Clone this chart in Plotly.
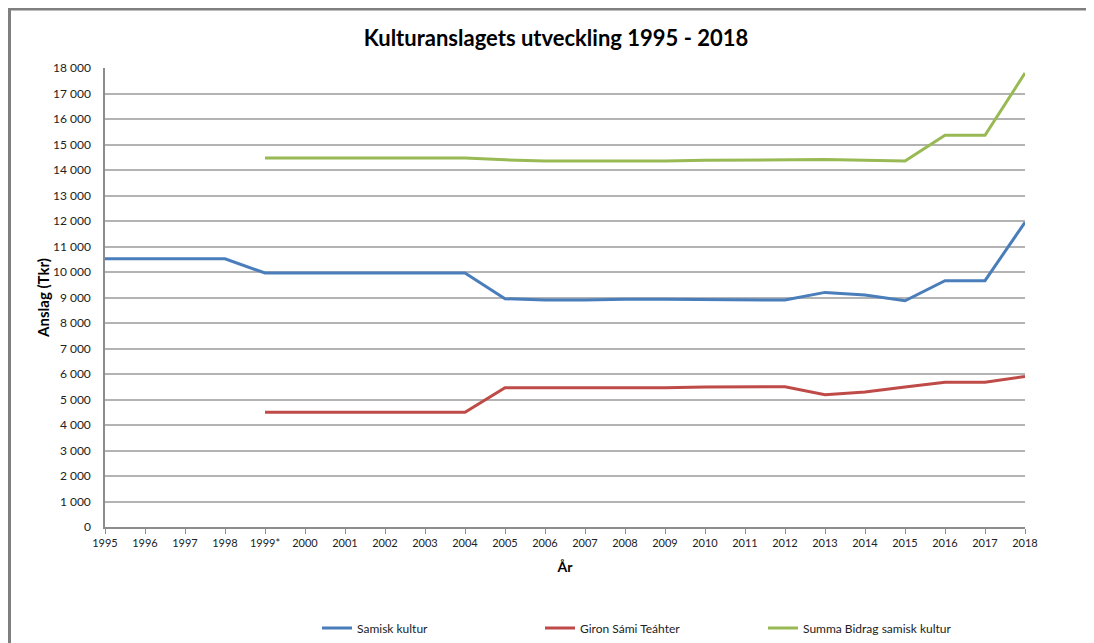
import plotly.graph_objects as go

years = ["1995", "1996", "1997", "1998", "1999*", "2000", "2001", "2002", "2003", "2004",
         "2005", "2006", "2007", "2008", "2009", "2010", "2011", "2012", "2013", "2014",
         "2015", "2016", "2017", "2018"]

samisk_kultur = [10520, 10520, 10520, 10520, 9960, 9960, 9960, 9960, 9960, 9960,
                 8950, 8900, 8900, 8930, 8930, 8920, 8900, 8900, 9200, 9100,
                 8870, 9660, 9660, 11950]

giron = [None, None, None, None, 4500, 4500, 4500, 4500, 4500, 4500,
         5460, 5460, 5460, 5460, 5460, 5490, 5500, 5500, 5190, 5290,
         5490, 5680, 5680, 5900]

summa = [None, None, None, None, 14470, 14470, 14470, 14470, 14470, 14470,
         14400, 14350, 14350, 14350, 14350, 14380, 14390, 14390, 14410, 14380,
         14350, 15360, 15360, 17800]

series_names = ["Samisk kultur", "Giron Sámi Teáhter", "Summa Bidrag samisk kultur"]
series_colors = ["#4a7ebb", "#be4b48", "#98b954"]

FONT = "Lato, 'Open Sans', sans-serif"

fig = go.Figure()
for name, vals, col in zip(series_names, [samisk_kultur, giron, summa], series_colors):
    fig.add_trace(go.Scatter(
        x=years, y=vals, name=name, mode="lines",
        line=dict(color=col, width=3),
        connectgaps=False,
    ))

# the page body has an 8px margin, so the figure starts at (8, 8) in the window
OFF = 8
W, H = 1094 - OFF, 643 - OFF
L = 105 - OFF
T = 68 - OFF
R = W - (1025 - OFF)
B = H - (527 - OFF)
pw, ph = W - L - R, H - T - B

def px_x(p):
    return (p - OFF - L) / pw

def px_y(p):
    return (H - B - (p - OFF)) / ph

def cx(p):
    return (p - OFF) / W

def cy(p):
    return 1 - (p - OFF) / H

fig.update_layout(
    width=W, height=H,
    margin=dict(l=L, r=R, t=T, b=B, autoexpand=False),
    paper_bgcolor="white", plot_bgcolor="white",
    separators=". ",
    font=dict(family=FONT, size=11, color="#222222"),
    title=dict(text="<b>Kulturanslagets utveckling 1995 - 2018</b>",
               x=cx(556), xanchor="center", xref="container",
               y=cy(38), yanchor="middle", yref="container",
               font=dict(size=22, color="#000000", family=FONT)),
    showlegend=True,
    legend=dict(orientation="h", xref="container", yref="container",
                x=cx(317), xanchor="left",
                y=cy(628), yanchor="middle",
                font=dict(size=12, color="#222222", family=FONT),
                itemwidth=30, entrywidth=178, tracegroupgap=0),
    xaxis=dict(
        type="category", range=[0, len(years) - 1],
        showgrid=False, showline=True, linecolor="#8c8c8c", linewidth=1.5,
        ticks="outside", ticklen=5, tickcolor="#8c8c8c",
        tickfont=dict(size=11, family=FONT, color="#222222"),
        title=dict(text="<b>År</b>", font=dict(size=14, family=FONT, color="#000000"),
                   standoff=14),
    ),
    yaxis=dict(
        range=[0, 18000], dtick=1000, tickformat=",d",
        showgrid=True, gridcolor="#b3b3b3", gridwidth=1.5,
        showline=True, linecolor="#8c8c8c", linewidth=1.5,
        zeroline=False,
        ticks="", ticklabelstandoff=10,
        tickfont=dict(size=12, family=FONT, color="#222222"),
        title=dict(text="<b>Anslag (Tkr)</b>", font=dict(size=15, family=FONT, color="#000000"),
                   standoff=0),
    ),
    shapes=[
        dict(type="line", xref="paper", yref="paper",
             x0=px_x(8), x1=px_x(1100), y0=px_y(9), y1=px_y(9),
             line=dict(color="#7f7f7f", width=3)),
        dict(type="line", xref="paper", yref="paper",
             x0=px_x(9.5), x1=px_x(9.5), y0=px_y(8), y1=px_y(650),
             line=dict(color="#7f7f7f", width=3)),
    ],
)

fig.write_html("out.html")
